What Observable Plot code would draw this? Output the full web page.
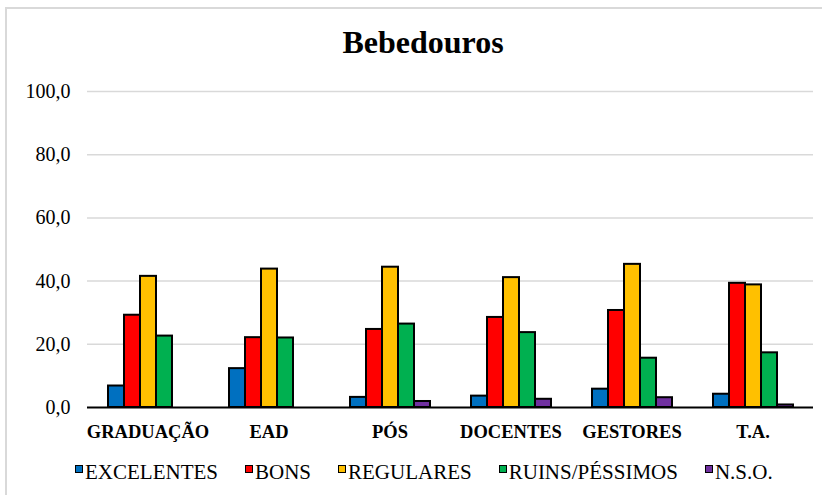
<!DOCTYPE html>
<html>
<head>
<meta charset="utf-8">
<script src="https://cdn.jsdelivr.net/npm/d3@7"></script>
<script src="https://cdn.jsdelivr.net/npm/@observablehq/plot@0.6"></script>
<style>
  html, body { margin: 0; padding: 0; background: #fff; width: 822px; height: 495px; overflow: hidden; }
  body { position: relative; font-family: "Liberation Serif", "DejaVu Serif", serif; }
  #frame { position: absolute; left: 5px; top: 7px; width: 900px; height: 600px; border: 2px solid #d9d9d9; box-sizing: border-box; }
  #title { position: absolute; left: 0; top: 26px; width: 846px; text-align: center; font-weight: bold; font-size: 32px; line-height: 32px; color: #000; }
  #chart { position: absolute; left: 0; top: 60px; }
  #legend { position: absolute; left: 75px; top: 462px; display: flex; gap: 27px; font-size: 21px; line-height: 21px; color: #000; white-space: nowrap; }
  .item { display: flex; align-items: center; }
  .sw { width: 8px; height: 8px; border: 1.5px solid #000; box-sizing: border-box; margin-right: 2px; position: relative; top: -4px; }
</style>
</head>
<body>
<div id="frame"></div>
<div id="title">Bebedouros</div>
<div id="chart"></div>
<div id="legend"></div>
<script>
const categories = ["GRADUAÇÃO", "EAD", "PÓS", "DOCENTES", "GESTORES", "T.A."];
const series = ["EXCELENTES", "BONS", "REGULARES", "RUINS/PÉSSIMOS", "N.S.O."];
const excelentes = [6.8, 12.3, 3.2, 3.6, 5.8, 4.2];
const bons = [29.2, 22.1, 24.7, 28.5, 30.7, 39.3];
const regulares = [41.5, 43.8, 44.4, 41.1, 45.3, 38.8];
const ruinsPessimos = [22.6, 22.0, 26.4, 23.7, 15.6, 17.3];
const nso = [0, 0, 1.9, 2.6, 3.1, 0.8];
const colors = ["#0070C0", "#FF0000", "#FFC000", "#00B050", "#7030A0"];
const yTicks = [0, 20, 40, 60, 80, 100];

const seriesValues = [excelentes, bons, regulares, ruinsPessimos, nso];
const data = [];
categories.forEach((c, i) => {
  series.forEach((s, j) => {
    data.push({category: c, series: s, value: seriesValues[j][i]});
  });
});

const font = "'Liberation Serif', 'DejaVu Serif', serif";

const chart = Plot.plot({
  width: 822,
  height: 400,
  marginTop: 31,
  marginBottom: 53,
  marginLeft: 85,
  marginRight: 7,
  style: {fontFamily: font, background: "transparent", color: "#000"},
  fx: {domain: categories, paddingInner: 0, paddingOuter: 0, label: null},
  x: {domain: series, paddingInner: 0, paddingOuter: 1.14, axis: null},
  y: {domain: [0, 100], label: null},
  color: {domain: series, range: colors},
  marks: [
    Plot.gridY(yTicks.filter(d => d > 0), {stroke: "#d9d9d9", strokeOpacity: 1, strokeWidth: 1.5}),
    Plot.barY(data.filter(d => d.value > 0), {fx: "category", x: "series", y: "value", fill: "series", stroke: "#000", strokeWidth: 2, inset: 0}),
    Plot.ruleY([0], {stroke: "#000", strokeWidth: 2}),
    Plot.axisY(yTicks, {tickSize: 0, tickPadding: 17, fontSize: 20, fontFamily: font, fill: "#000", label: null,
      tickFormat: d => d.toFixed(1).replace(".", ",")}),
    Plot.axisFx({anchor: "bottom", tickSize: 0, tickPadding: 17, fontSize: 18.5, fontWeight: "bold", fontFamily: font, fill: "#000", label: null})
  ]
});
document.getElementById("chart").appendChild(chart);

const legend = document.getElementById("legend");
series.forEach((s, j) => {
  const item = document.createElement("div");
  item.className = "item";
  const sw = document.createElement("span");
  sw.className = "sw";
  sw.style.background = colors[j];
  const t = document.createElement("span");
  t.textContent = s;
  item.appendChild(sw);
  item.appendChild(t);
  legend.appendChild(item);
});
</script>
</body>
</html>
